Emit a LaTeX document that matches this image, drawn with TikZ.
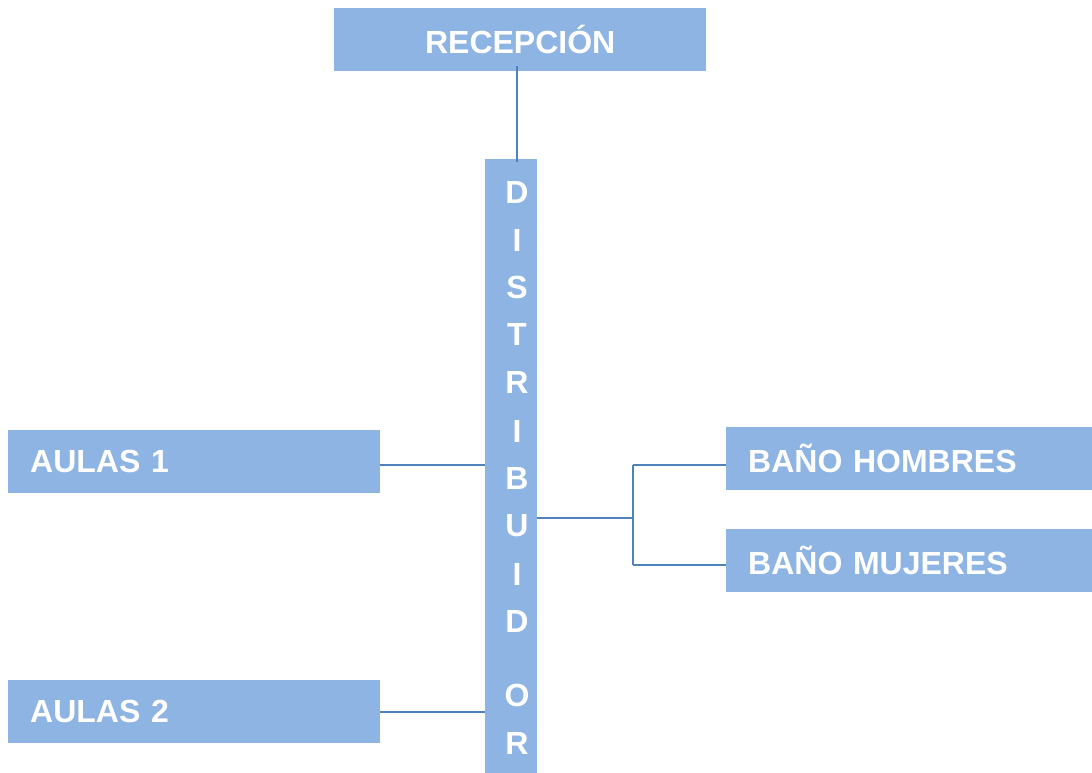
\documentclass[tikz,border=0pt]{standalone}
\usepackage{fontspec}
\setmainfont{Liberation Sans}
\usetikzlibrary{positioning}
\definecolor{boxblue}{HTML}{8EB4E3}
\definecolor{lineblue}{HTML}{4F81BD}
\begin{document}
\begin{tikzpicture}[
  x=1pt, y=-1pt,
  box/.style={fill=boxblue, inner sep=0pt, minimum height=63pt, font=\fontsize{32}{38}\selectfont\bfseries, text=white},
  sidebox/.style={box, anchor=north west, minimum width=#1, text width=#1-44pt, inner xsep=22pt, align=left},
  letter/.style={font=\fontsize{32}{38}\selectfont\bfseries, text=white, inner sep=0pt},
  conn/.style={draw=lineblue, line width=1.6pt}
]
\useasboundingbox (0,0) rectangle (1092,773);
\node[box, anchor=north west, minimum width=372pt] (recep) at (334,8) {RECEPCIÓN};
\node[fill=boxblue, anchor=north west, minimum width=52pt, minimum height=614pt, inner sep=0pt] (dist) at (485,159) {};
\foreach \ch/\yy in {D/192, I/240, S/287, T/334, R/382, I/431, B/478, U/526, I/574, D/621, O/695, R/743}
  \node[letter] at (517,\yy) {\ch};
\node[sidebox=372pt] (aulas1) at (8,430) {AULAS 1};
\node[sidebox=372pt] (aulas2) at (8,680) {AULAS 2};
\node[sidebox=366pt] (hombres) at (726,427) {BAÑO HOMBRES};
\node[sidebox=366pt] (mujeres) at (726,529) {BAÑO MUJERES};
\coordinate (split) at (633,518);
% connectors
\draw[conn] ([xshift=-3pt,yshift=5pt]recep.south) -- ([xshift=6pt,yshift=-3pt]dist.north);
\draw[conn] ([yshift=-3pt]aulas1.east) -- ([yshift=-3pt]aulas1.east -| dist.west);
\draw[conn] (aulas2.east) -- (aulas2.east -| dist.west);
\draw[conn] (split -| dist.east) -- (split);
\draw[conn] ([yshift=-6pt]hombres.west -| split) -- ([yshift=-4pt]mujeres.west -| split);
\draw[conn] ([yshift=-6pt]hombres.west -| split) -- ([yshift=-6pt]hombres.west);
\draw[conn] ([yshift=-4pt]mujeres.west -| split) -- ([yshift=-4pt]mujeres.west);
\end{tikzpicture}
\end{document}
